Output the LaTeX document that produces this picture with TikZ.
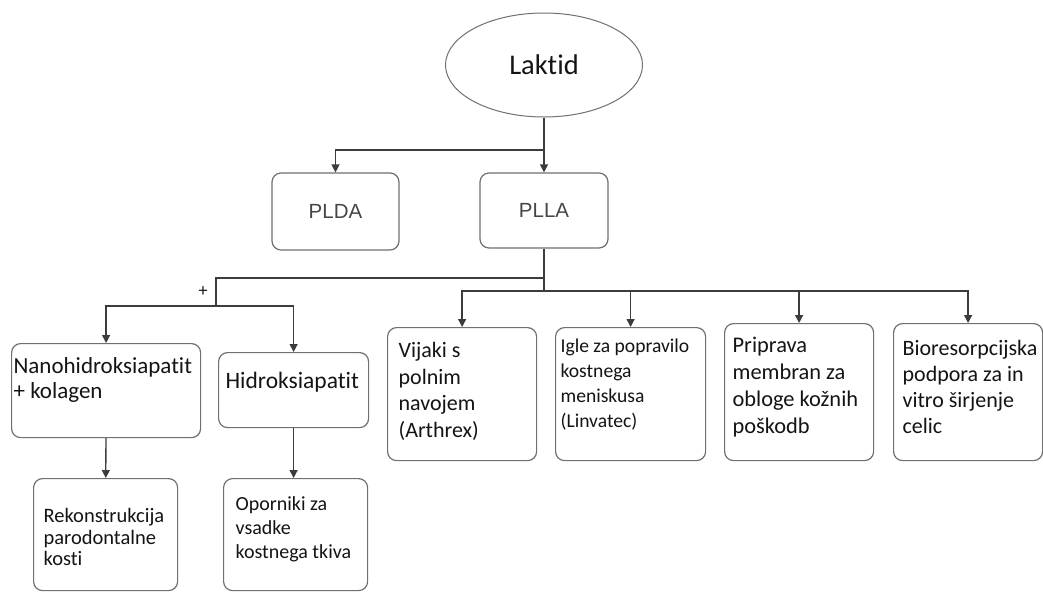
\documentclass[tikz,border=0pt]{standalone}
\usepackage{fontspec}
\setmainfont{Carlito}[Ligatures={NoCommon}]
\newfontfamily\arialfont{Liberation Sans}
\usetikzlibrary{shapes.geometric}
\usetikzlibrary{arrows.meta}

\definecolor{linegray}{HTML}{3C3C3C}
\definecolor{boxgray}{HTML}{707070}
\definecolor{txtgray}{HTML}{141414}
\definecolor{plgray}{HTML}{464646}

\newcommand{\fs}[2]{\fontsize{#1pt}{#2pt}\selectfont}
\newcommand{\cell}[3]{\parbox[b][#2pt][t]{#1pt}{\raggedright\hyphenpenalty=10000 \strut#3}}

\begin{document}
\begin{tikzpicture}[x=1pt, y=-1pt,
	conn/.style={draw=linegray, line width=1.3pt},
	arr/.style={conn, -{Triangle[length=8pt, width=8pt]}},
	leaf/.style={draw=boxgray, line width=1.2pt, rounded corners=9pt, anchor=north west, inner sep=0pt, text=txtgray},
	acid/.style={draw=boxgray, line width=1.2pt, rounded corners=9pt, font=\arialfont\fs{20.5}{24}, text=plgray}]
	
	\useasboundingbox[fill=white] (0,0) rectangle (1043,592);
	
	\node[ellipse, draw=boxgray, line width=1pt, minimum width=197pt, minimum height=104pt, inner sep=0pt, font=\fs{28.5}{32}, text=txtgray] (lak) at (544,65) {Laktid};
	
	\node[acid, minimum width=127pt, minimum height=77pt] (plda) at (335.5,211.5) {PLDA};
	\node[acid, minimum width=128pt, minimum height=75pt] (plla) at (544,210.5) {PLLA};
	
	% left branch
	\node[leaf, inner xsep=2pt, inner ysep=12.5pt, font=\fs{23}{25}] (nano) at (11,343) {\cell{185}{69}{Nanohidroksiapatit\\+ kolagen}};
	\node[leaf, inner xsep=7pt, inner ysep=18pt, font=\fs{23.5}{26}] (hidro) at (218,352) {\cell{136}{39}{Hidroksiapatit}};
	\node[leaf, inner xsep=10pt, inner ysep=29pt, font=\fs{20.5}{21.5}] (rek) at (33,478) {\cell{124}{54}{Rekonstrukcija\\parodontalne\\kosti}};
	\node[leaf, inner xsep=12pt, inner ysep=15pt, font=\fs{20}{24}] (opo) at (223,478) {\cell{120}{82}{Oporniki za\\vsadke\\kostnega tkiva}};
	
	% right branch
	\node[leaf, inner xsep=11pt, inner ysep=11.3pt, font=\fs{22}{26.7}] (vij) at (387,327) {\cell{127}{110.4}{Vijaki s\\polnim\\navojem\\(Arthrex)}};
	\node[leaf, inner xsep=5pt, inner ysep=7.5pt, font=\fs{19.6}{25}] (igle) at (555,327) {\cell{140}{118}{Igle za popravilo\\kostnega\\meniskusa\\(Linvatec)}};
	\node[leaf, inner xsep=8pt, inner ysep=10pt, font=\fs{22.4}{27}] (prip) at (724,323) {\cell{133}{117}{Priprava\\membran za\\obloge kožnih\\poškodb}};
	\node[leaf, inner xsep=9pt, inner ysep=14pt, font=\fs{22}{26}] (bio) at (893,323) {\cell{131}{109}{Bioresorpcijska\\podpora za in\\vitro širjenje\\celic}};
	
	\coordinate (top) at (544,150);
	\draw[conn] (lak.south) -- (top);
	\draw[arr] (top) -- (plla);
	\draw[arr] (top) -| (plda.north);
	
	\coordinate (mid) at (544,278);
	\coordinate (low) at (544,291);
	\coordinate (fork) at (216,306);
	\draw[conn] (plla.south) -- (low);
	\draw[conn] (mid) -| (fork);
	\draw[arr] (fork) -| (nano.north);
	\draw[arr] (fork) -| (hidro.north);
	\node[font=\fs{18}{20}, text=txtgray] (plus) at (203,292) {+};
	
	\foreach \t in {vij, igle, prip, bio}{
		\draw[arr] (low) -| (\t.north);
	}
	
	\draw[arr] (nano) -- (rek);
	\draw[arr] (hidro.south) -- (hidro.south |- opo.north);
	
\end{tikzpicture}
\end{document}
